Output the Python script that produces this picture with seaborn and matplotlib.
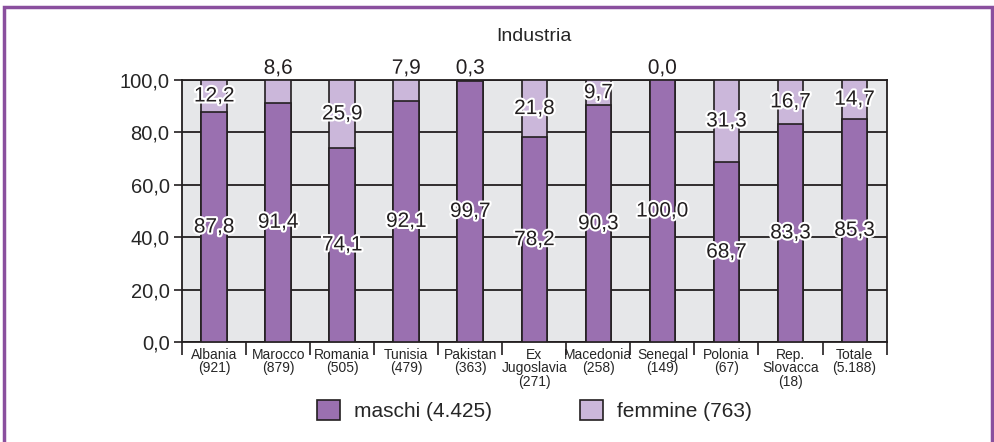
import matplotlib
matplotlib.use('Agg')
import matplotlib.pyplot as plt
import matplotlib.patheffects as pe
from matplotlib.patches import Patch, Rectangle
import numpy as np
import pandas as pd
import seaborn as sns

# Data
paesi = ['Albania\n(921)', 'Marocco\n(879)', 'Romania\n(505)', 'Tunisia\n(479)',
         'Pakistan\n(363)', 'Ex\nJugoslavia\n(271)', 'Macedonia\n(258)',
         'Senegal\n(149)', 'Polonia\n(67)', 'Rep.\nSlovacca\n(18)', 'Totale\n(5.188)']
maschi = [87.8, 91.4, 74.1, 92.1, 99.7, 78.2, 90.3, 100.0, 68.7, 83.3, 85.3]
femmine = [12.2, 8.6, 25.9, 7.9, 0.3, 21.8, 9.7, 0.0, 31.3, 16.7, 14.7]
yticks = [0, 20, 40, 60, 80, 100]

df = pd.DataFrame({'paese': paesi, 'maschi': maschi, 'femmine': femmine})
df['totale'] = df['maschi'] + df['femmine']

c_m = '#9a70b0'
c_f = '#cbb7da'
edge = '#231f20'

sns.set_style('white', {'axes.facecolor': '#e6e7e9'})
plt.rcParams['font.family'] = ['Liberation Sans', 'DejaVu Sans']

fig = plt.figure(figsize=(9.95, 4.42), dpi=100)
ax = fig.add_axes([0.183, 0.226, 0.708, 0.593])

# femmine on top: draw total first, then maschi over it
sns.barplot(data=df, x='paese', y='totale', color=c_f, width=0.4,
            edgecolor=edge, linewidth=1.2, saturation=1, ax=ax, zorder=3)
sns.barplot(data=df, x='paese', y='maschi', color=c_m, width=0.4,
            edgecolor=edge, linewidth=1.2, saturation=1, ax=ax, zorder=3)

ax.set_ylim(0, 100)
ax.set_xlim(-0.5, len(paesi) - 0.5)
ax.set_yticks(yticks)
ax.set_yticklabels([f'{v:.1f}'.replace('.', ',') for v in yticks], fontsize=14.5)
ax.yaxis.grid(True, color=edge, linewidth=1.3, zorder=1)
ax.set_axisbelow(True)
ax.tick_params(axis='y', length=6, width=1.2, color=edge, left=True, pad=3)

ax.set_xticks(range(len(paesi)))
ax.set_xticklabels(paesi, fontsize=10, linespacing=0.95)
ax.tick_params(axis='x', which='major', length=0, pad=4)
ax.set_xticks(np.arange(-0.5, len(paesi)), minor=True)
ax.tick_params(axis='x', which='minor', length=9, width=1.2, color=edge, bottom=True)
ax.set_xlabel('')
ax.set_ylabel('')
for s in ax.spines.values():
    s.set_color(edge)
    s.set_linewidth(1.3)

ax.set_title('Industria', fontsize=14, pad=28)

stroke = [pe.withStroke(linewidth=3, foreground='white')]
for i, row in df.iterrows():
    m, f = row['maschi'], row['femmine']
    ax.text(i, m / 2, f'{m:.1f}'.replace('.', ','), ha='center', va='center',
            fontsize=15, color=edge, path_effects=stroke, zorder=5)
    if f < 9:
        yf = 104.5
    else:
        yf = min(m + f / 2, 97)
    ax.text(i, yf, f'{f:.1f}'.replace('.', ','), ha='center', va='center',
            fontsize=15, color=edge, path_effects=stroke, zorder=5, clip_on=False)

handles = [Patch(facecolor=c_m, edgecolor=edge, linewidth=1.2),
           Patch(facecolor=c_f, edgecolor=edge, linewidth=1.2)]
fig.legend(handles, ['maschi (4.425)', 'femmine (763)'], loc='center',
           bbox_to_anchor=(0.537, 0.072), ncol=2, frameon=False, fontsize=15,
           handlelength=1.1, handleheight=1.1, columnspacing=4.2, handletextpad=0.7)

fig.patches.append(Rectangle((0.004, -0.05), 0.993, 1.035, transform=fig.transFigure,
                             fill=False, edgecolor='#8a4f9e', linewidth=2.5))

fig.savefig('out.png', dpi=100)
